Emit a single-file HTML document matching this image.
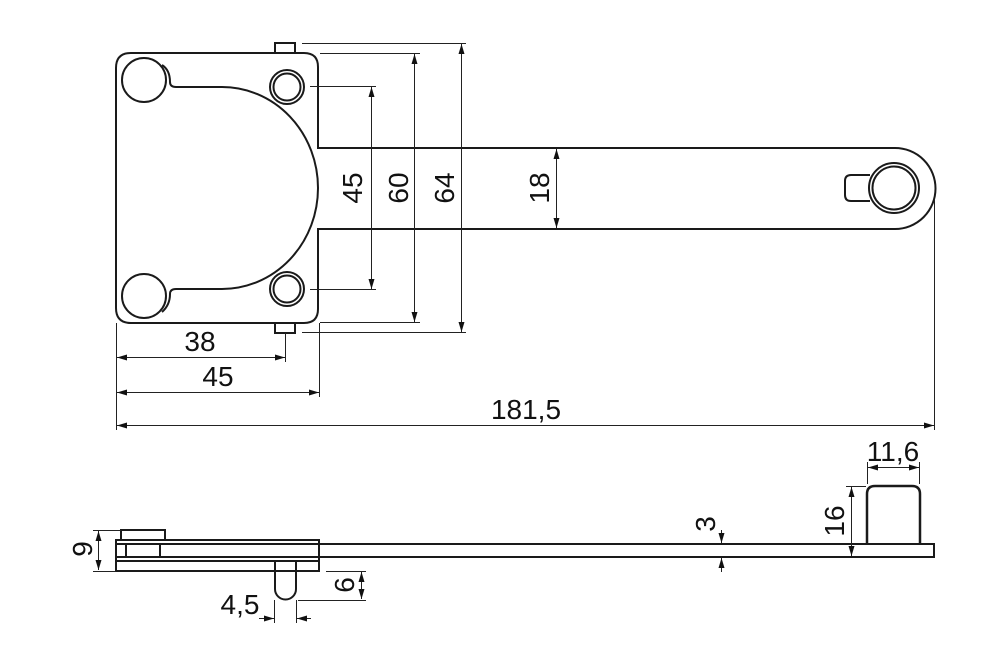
<!DOCTYPE html>
<html><head><meta charset="utf-8"><style>
html,body{margin:0;padding:0;background:#fff;}
svg{display:block;}
text{font-family:"Liberation Sans",Arial,sans-serif;font-size:28px;fill:#111;}
</style></head><body>
<svg width="1000" height="667" viewBox="0 0 1000 667" xmlns="http://www.w3.org/2000/svg">
<defs>
<marker id="a" viewBox="0 0 10 6" refX="10" refY="3" markerWidth="10" markerHeight="6" markerUnits="userSpaceOnUse" orient="auto-start-reverse">
<path d="M0,0 L10,3 L0,6 Z" fill="#111"/></marker>
</defs>
<g fill="none" stroke="#1a1a1a" stroke-width="2">
<path d="M131,53 H304 Q318,53 318,67 V148 H895 A40.5,40.5 0 0 1 895,229 H318 V309 Q318,323 304,323 H131 Q116,323 116,308 V68 Q116,53 131,53 Z"/>
<rect x="275" y="43" width="20" height="10"/>
<rect x="275" y="323" width="20" height="10"/>
<circle cx="144" cy="80" r="22"/>
<circle cx="144" cy="296" r="22"/>
<circle cx="287" cy="87" r="17"/><circle cx="287" cy="87" r="13.5"/>
<circle cx="287" cy="289" r="17"/><circle cx="287" cy="289" r="13.5"/>
<path d="M162,65 Q170,70 170,82 Q170,87 176,87 H222 A96,101 0 0 1 318,188 A96,101 0 0 1 222,289 H176 Q170,289 170,294 Q170,305 162,312" />
<circle cx="894" cy="188" r="25"/><circle cx="894" cy="188" r="21.5"/>
<path d="M870,175 H851 Q845,175 845,181 V195 Q845,201 851,201 H870"/>
<rect x="116" y="540" width="203" height="31"/>
<rect x="121" y="530" width="44" height="10"/>
<path d="M116,544 H934 V557 H116 M126,544 V557 M160,544 V557 M116,561 H319"/>
<path d="M275,561 V589 A10.5,10.5 0 0 0 296,589 V561"/>
<path d="M867,544 V494 Q867,486 875,486 H912 Q920,486 920,494 V544" stroke-width="2.5"/>
</g>
<g stroke="#222" stroke-width="1" fill="none">
<path d="M310,86.5 H376 M310,289.5 H376 M320,53.5 H420 M320,322.5 H420 M302,43.5 H466 M302,332.5 H466"/>
<path d="M116.5,323 V430 M285.5,333 V362 M319.5,323 V397 M934.5,200 V430"/>
<path d="M371.5,87 V289" marker-start="url(#a)" marker-end="url(#a)"/>
<path d="M414.5,54 V322" marker-start="url(#a)" marker-end="url(#a)"/>
<path d="M461.5,44 V332" marker-start="url(#a)" marker-end="url(#a)"/>
<path d="M556.5,149 V228" marker-start="url(#a)" marker-end="url(#a)"/>
<path d="M117,357.5 H285" marker-start="url(#a)" marker-end="url(#a)"/>
<path d="M117,392.5 H319" marker-start="url(#a)" marker-end="url(#a)"/>
<path d="M117,425.5 H934" marker-start="url(#a)" marker-end="url(#a)"/>
<path d="M93,530.5 H121 M93,571.5 H116"/>
<path d="M98.5,531 V570" marker-start="url(#a)" marker-end="url(#a)"/>
<path d="M326,571.5 H366 M298,600.5 H366"/>
<path d="M361.5,572 V599" marker-start="url(#a)" marker-end="url(#a)"/>
<path d="M274.5,600 V623 M296.5,600 V623"/>
<path d="M259,618.5 H274" marker-end="url(#a)"/>
<path d="M311,618.5 H297" marker-end="url(#a)"/>
<path d="M721.5,530 V543" marker-end="url(#a)"/>
<path d="M721.5,572 V558" marker-end="url(#a)"/>
<path d="M846,486.5 H866"/>
<path d="M851.5,487 V556" marker-start="url(#a)" marker-end="url(#a)"/>
<path d="M867.5,462 V484 M919.5,462 V484"/>
<path d="M868,467.5 H919" marker-start="url(#a)" marker-end="url(#a)"/>
</g>
<g>
<text transform="translate(362,188) rotate(-90)" text-anchor="middle">45</text>
<text transform="translate(408,188) rotate(-90)" text-anchor="middle">60</text>
<text transform="translate(454,188) rotate(-90)" text-anchor="middle">64</text>
<text transform="translate(549,188) rotate(-90)" text-anchor="middle">18</text>
<text x="200" y="351" text-anchor="middle">38</text>
<text x="218" y="386" text-anchor="middle">45</text>
<text x="526" y="419" text-anchor="middle">181,5</text>
<text transform="translate(92,549) rotate(-90)" text-anchor="middle">9</text>
<text transform="translate(354,585) rotate(-90)" text-anchor="middle">6</text>
<text x="240" y="614" text-anchor="middle">4,5</text>
<text transform="translate(715,524) rotate(-90)" text-anchor="middle">3</text>
<text transform="translate(844,521) rotate(-90)" text-anchor="middle">16</text>
<text x="893" y="461" text-anchor="middle">11,6</text>
</g>
</svg>
</body></html>
